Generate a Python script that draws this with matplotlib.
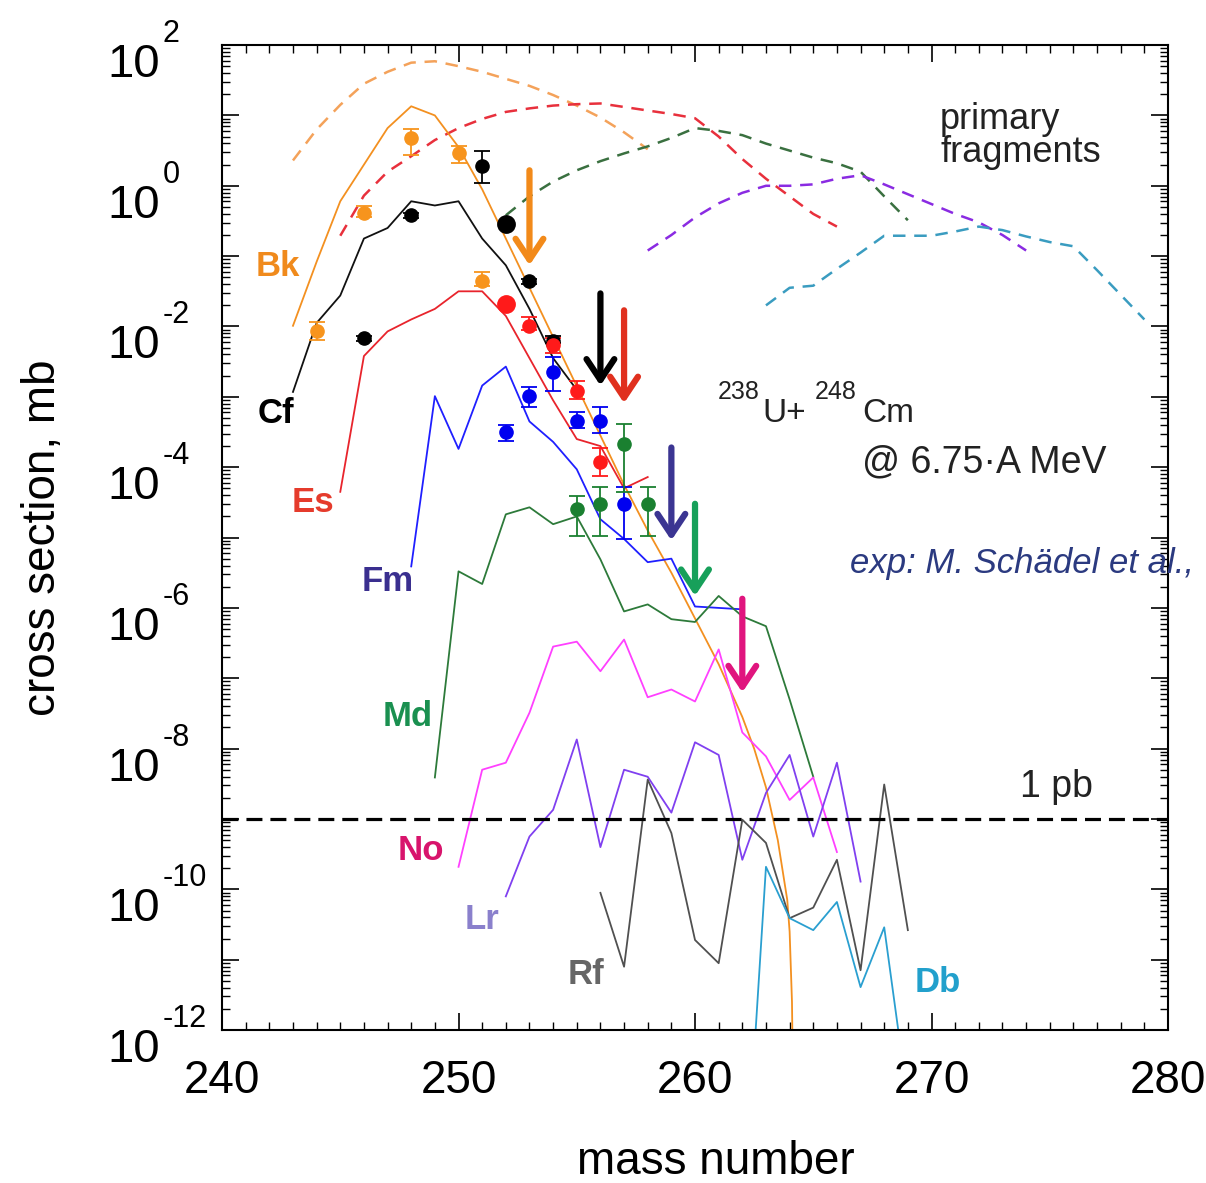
import numpy as np
import matplotlib
matplotlib.use("Agg")
import matplotlib.pyplot as plt
import matplotlib.transforms as mtransforms
from matplotlib.ticker import LogLocator, MultipleLocator, NullFormatter

plt.rcParams["font.family"] = ["Liberation Sans", "DejaVu Sans"]

# all cross sections are stored as log10(sigma / mb)

# primary fragment distributions (dashed)
bk_prim_a = [243, 244, 245, 246, 247, 248, 249, 250, 251, 252, 253, 254, 255, 256, 257, 258]
bk_prim_lg = [0.36, 0.8, 1.15, 1.45, 1.62, 1.75, 1.77, 1.70, 1.62, 1.52, 1.42, 1.29, 1.14, 0.97, 0.76, 0.52]
es_prim_a = [245, 246, 247, 248, 249, 250, 251, 252, 253, 254, 255, 256, 257, 258, 259, 260, 261, 262, 263, 264, 265, 266]
es_prim_lg = [-0.71, -0.14, 0.2, 0.42, 0.65, 0.82, 0.95, 1.05, 1.1, 1.14, 1.16, 1.17, 1.12, 1.07, 1.02, 0.96, 0.7, 0.38, 0.1, -0.15, -0.4, -0.58]
md_prim_a = [252, 253, 254, 255, 256, 257, 258, 259, 260, 261, 262, 263, 264, 265, 266, 267, 268, 269]
md_prim_lg = [-0.42, -0.15, 0.06, 0.22, 0.35, 0.46, 0.56, 0.68, 0.82, 0.78, 0.72, 0.6, 0.5, 0.4, 0.32, 0.2, -0.15, -0.49]
lr_prim_a = [258, 259, 260, 261, 262, 263, 264, 265, 266, 267, 268, 269, 270, 271, 272, 273, 274]
lr_prim_lg = [-0.92, -0.7, -0.45, -0.25, -0.1, 0.0, 0.0, 0.02, 0.1, 0.15, 0.02, -0.12, -0.26, -0.4, -0.52, -0.7, -0.92]
db_prim_a = [263, 264, 265, 266, 267, 268, 269, 270, 271, 272, 273, 274, 275, 276, 277, 278, 279]
db_prim_lg = [-1.7, -1.45, -1.42, -1.18, -0.95, -0.71, -0.71, -0.71, -0.65, -0.58, -0.63, -0.72, -0.8, -0.86, -1.2, -1.55, -1.9]

# surviving (final) products (solid)
bk_a = [243, 244, 245, 246, 247, 248, 249, 250, 251, 252, 253, 254, 255, 256, 257, 258, 259, 260, 261, 262, 262.5, 263, 263.5, 263.9, 264.0, 264.1, 264.15]
bk_lg = [-1.99, -1.08, -0.22, 0.3, 0.82, 1.13, 1.0, 0.55, -0.05, -0.75, -1.45, -2.15, -2.85, -3.55, -4.25, -4.9, -5.5, -6.15, -6.8, -7.55, -8.0, -8.55, -9.3, -10.15, -10.6, -11.6, -13.0]
cf_a = [243, 244, 245, 246, 247, 248, 249, 250, 251, 252, 253, 254, 255]
cf_lg = [-2.93, -1.95, -1.56, -0.75, -0.6, -0.22, -0.28, -0.22, -0.75, -1.13, -1.75, -2.45, -2.9]
es_a = [245, 246, 247, 248, 249, 250, 251, 252, 253, 254, 255, 256, 257, 258]
es_lg = [-4.35, -2.42, -2.07, -1.9, -1.75, -1.5, -1.5, -1.85, -2.45, -3.05, -3.6, -3.7, -4.3, -4.14]
fm_a = [248, 249, 250, 251, 252, 253, 254, 255, 256, 257, 258, 259, 260, 261, 262]
fm_lg = [-5.41, -2.99, -3.74, -2.84, -2.57, -3.35, -3.64, -4.03, -4.74, -5.02, -5.35, -5.3, -5.98, -6.0, -6.02]
md_a = [249, 250, 251, 252, 253, 254, 255, 256, 257, 258, 259, 260, 261, 262, 263, 264, 265]
md_lg = [-8.41, -5.48, -5.66, -4.67, -4.57, -4.81, -4.7, -5.31, -6.05, -5.95, -6.16, -6.2, -5.83, -6.12, -6.26, -7.3, -8.4]
no_a = [250, 251, 252, 253, 254, 255, 256, 257, 258, 259, 260, 261, 262, 263, 264, 265, 266]
no_lg = [-9.68, -8.3, -8.2, -7.49, -6.55, -6.48, -6.9, -6.45, -7.27, -7.16, -7.33, -6.59, -7.77, -8.11, -8.73, -8.41, -9.47]
lr_a = [252, 253, 254, 255, 256, 257, 258, 259, 260, 261, 262, 263, 264, 265, 266, 267]
lr_lg = [-10.1, -9.25, -8.87, -7.87, -9.4, -8.3, -8.4, -8.91, -7.91, -8.09, -9.58, -8.63, -8.09, -9.25, -8.2, -9.89]
rf_a = [256, 257, 258, 259, 260, 261, 262, 263, 264, 265, 266, 267, 268, 269]
rf_lg = [-10.05, -11.1, -8.44, -9.2, -10.72, -11.05, -9.01, -9.34, -10.41, -10.26, -9.58, -11.15, -8.51, -10.58]
db_a = [262, 263, 264, 265, 266, 267, 268, 269]
db_lg = [-15.0, -9.68, -10.41, -10.58, -10.18, -11.39, -10.54, -13.0]

# measured points: mass, log10 value, upper and lower error (decades)
bk_exp_a = [244, 246, 248, 250, 251]
bk_exp_lg = [-2.06, -0.39, 0.68, 0.46, -1.36]
bk_exp_up = [0.13, 0.1, 0.13, 0.1, 0.14]
bk_exp_dn = [0.13, 0.05, 0.24, 0.13, 0.07]
cf_exp_a = [246, 248, 251, 253, 254]
cf_exp_lg = [-2.17, -0.42, 0.28, -1.36, -2.2]
cf_exp_up = [0.04, 0.04, 0.21, 0.04, 0.06]
cf_exp_dn = [0.04, 0.04, 0.24, 0.04, 0.04]
cf_big_a = [252]
cf_big_lg = [-0.54]
es_exp_a = [253, 254, 255, 256]
es_exp_lg = [-2.0, -2.27, -2.91, -3.93]
es_exp_up = [0.13, 0.1, 0.14, 0.2]
es_exp_dn = [0.05, 0.1, 0.12, 0.2]
es_big_a = [252]
es_big_lg = [-1.68]
fm_exp_a = [252, 253, 254, 255, 256, 257]
fm_exp_lg = [-3.5, -2.99, -2.64, -3.34, -3.34, -4.52]
fm_exp_up = [0.1, 0.13, 0.2, 0.12, 0.2, 0.24]
fm_exp_dn = [0.13, 0.15, 0.27, 0.1, 0.18, 0.5]
md_exp_a = [255, 256, 257, 258]
md_exp_lg = [-4.6, -4.52, -3.67, -4.52]
md_exp_up = [0.19, 0.24, 0.29, 0.24]
md_exp_dn = [0.38, 0.46, 0.68, 0.46]

# arrows: mass, tail, tip (log10), colour
arrow_a = [253, 256, 257, 259, 260, 262]
arrow_top = [0.22, -1.53, -1.77, -3.72, -4.52, -5.87]
arrow_tip = [-1.13, -2.84, -3.09, -5.04, -5.83, -7.2]
arrow_col = ["#f28a1a", "#000000", "#e0301e", "#3b3592", "#17a05a", "#e0157e"]

# element labels: text, mass, log10, colour
elem_names = ["Bk", "Cf", "Es", "Fm", "Md", "No", "Lr", "Rf", "Db"]
elem_a = [241.4, 241.5, 242.95, 245.9, 246.77, 247.44, 250.27, 254.63, 269.3]
elem_lg = [-1.15, -3.24, -4.5, -5.63, -7.54, -9.45, -10.43, -11.21, -11.33]
elem_col = ["#f08a1c", "#000000", "#e53b2c", "#3a2f8f", "#1a9050", "#d8146c", "#8a80cc", "#666666", "#22a0cc"]

ytick_exp = [2, 0, -2, -4, -6, -8, -10, -12]
one_pb = 1e-9


def sig(v):
    return 10.0 ** np.asarray(v, dtype=float)


def err(lg, up, dn):
    y = sig(lg)
    return [y - sig(np.asarray(lg) - np.asarray(dn)), sig(np.asarray(lg) + np.asarray(up)) - y]


fig = plt.figure(figsize=(12.06, 11.83), dpi=100)
ax = fig.add_axes([0.1841, 0.1293, 0.7844, 0.8326])
ax.set_yscale("log")
ax.set_xlim(240, 280)
ax.set_ylim(1e-12, 1e2)

dash = dict(lw=1.8, ls=(0, (5, 3.5)))
ax.plot(bk_prim_a, sig(bk_prim_lg), color="#f4a25a", **dash)
ax.plot(es_prim_a, sig(es_prim_lg), color="#e8303c", **dash)
ax.plot(md_prim_a, sig(md_prim_lg), color="#3a7040", **dash)
ax.plot(lr_prim_a, sig(lr_prim_lg), color="#8a2be2", **dash)
ax.plot(db_prim_a, sig(db_prim_lg), color="#3a9cc0", **dash)

solid = dict(lw=1.3)
ax.plot(bk_a, sig(bk_lg), color="#f39020", **solid)
ax.plot(cf_a, sig(cf_lg), color="#111111", **solid)
ax.plot(es_a, sig(es_lg), color="#e8242c", **solid)
ax.plot(fm_a, sig(fm_lg), color="#1f1fff", **solid)
ax.plot(md_a, sig(md_lg), color="#2d7a3a", **solid)
ax.plot(no_a, sig(no_lg), color="#ff40ff", **solid)
ax.plot(lr_a, sig(lr_lg), color="#8040f0", **solid)
ax.plot(rf_a, sig(rf_lg), color="#505050", **solid)
ax.plot(db_a, sig(db_lg), color="#2a9fd0", **solid)

ax.axhline(one_pb, color="black", lw=2.3, ls=(0, (5, 2.5)))

eb = dict(fmt="o", ms=9.5, capsize=6, capthick=1.3, elinewidth=1.3, zorder=4)
ax.errorbar(bk_exp_a, sig(bk_exp_lg), yerr=err(bk_exp_lg, bk_exp_up, bk_exp_dn), color="#f7941d", **eb)
ax.errorbar(cf_exp_a, sig(cf_exp_lg), yerr=err(cf_exp_lg, cf_exp_up, cf_exp_dn), color="black", **eb)
ax.errorbar(es_exp_a, sig(es_exp_lg), yerr=err(es_exp_lg, es_exp_up, es_exp_dn), color="#ff1a1a", **eb)
ax.errorbar(fm_exp_a, sig(fm_exp_lg), yerr=err(fm_exp_lg, fm_exp_up, fm_exp_dn), color="#0000f0", **eb)
ax.errorbar(md_exp_a, sig(md_exp_lg), yerr=err(md_exp_lg, md_exp_up, md_exp_dn), color="#1a8030", **eb)
ax.plot(cf_big_a, sig(cf_big_lg), "o", ms=12.5, color="black", zorder=4)
ax.plot(es_big_a, sig(es_big_lg), "o", ms=12.5, color="#ff1a1a", zorder=4)

for x, top, tip, col in zip(arrow_a, arrow_top, arrow_tip, arrow_col):
    ax.annotate("", xy=(x, sig(tip)), xytext=(x, sig(top)),
                arrowprops=dict(arrowstyle="->,head_length=0.75,head_width=0.5",
                                lw=4.5, color=col, shrinkA=0, shrinkB=0,
                                mutation_scale=20))

for name, x, lg, col in zip(elem_names, elem_a, elem_lg, elem_col):
    ax.text(x, sig(lg), name, color=col, fontsize=25, fontweight="bold",
            ha="left", va="center")

txt_col = "#222222"
ax.text(270.36, sig(1.19), "primary\nfragments", fontsize=26, ha="left",
        va="top", linespacing=0.92, color=txt_col)
ax.text(260.97, sig(-3.035), "238", fontsize=18, ha="left", va="baseline", color=txt_col)
ax.text(262.83, sig(-3.36), "U+", fontsize=24, ha="left", va="baseline", color=txt_col)
ax.text(265.07, sig(-3.035), "248", fontsize=18, ha="left", va="baseline", color=txt_col)
ax.text(267.06, sig(-3.36), "Cm", fontsize=24, ha="left", va="baseline", color=txt_col)
ax.text(267.06, sig(-4.07), "@ 6.75\u00b7A MeV", fontsize=27, ha="left",
        va="baseline", color=txt_col)
ax.text(266.55, sig(-5.5), "exp: M. Sch\u00e4del et al.,", fontsize=25,
        style="italic", color="#2b3a80", ha="left", va="baseline", clip_on=False)
ax.text(273.74, sig(-8.69), "1 pb", fontsize=27, ha="left", va="baseline",
        color=txt_col)

# axes and ticks
ax.xaxis.set_major_locator(MultipleLocator(10))
ax.xaxis.set_minor_locator(MultipleLocator(1))
ax.yaxis.set_major_locator(LogLocator(base=10, numticks=100))
ax.yaxis.set_minor_locator(LogLocator(base=10, subs=np.arange(2, 10), numticks=100))
ax.yaxis.set_major_formatter(NullFormatter())
ax.yaxis.set_minor_formatter(NullFormatter())
ax.tick_params(which="both", direction="in", top=True, right=True)
ax.tick_params(which="major", length=12, width=1.2)
ax.tick_params(which="minor", length=6, width=1.0)
ax.tick_params(axis="x", which="major", labelsize=33, pad=21)
for sp in ax.spines.values():
    sp.set_linewidth(1.5)

ytrans = ax.get_yaxis_transform()
base_tr = mtransforms.offset_copy(ytrans, fig=fig, x=0, y=-32, units="dots")
exp_tr = mtransforms.offset_copy(ytrans, fig=fig, x=0, y=3, units="dots")
for e in ytick_exp:
    ax.text(-0.1216, 10.0 ** e, "10", transform=base_tr, fontsize=34,
            ha="left", va="baseline", clip_on=False)
    ax.text(-0.0624, 10.0 ** e, str(e), transform=exp_tr, fontsize=22,
            ha="left", va="baseline", clip_on=False)

ax.set_xlabel("mass number", fontsize=33)
ax.xaxis.set_label_coords(0.522, -0.112)
ax.set_ylabel("cross section, mb", fontsize=33)
ax.yaxis.set_label_coords(-0.166, 0.5)

fig.savefig("out.png", dpi=100)
